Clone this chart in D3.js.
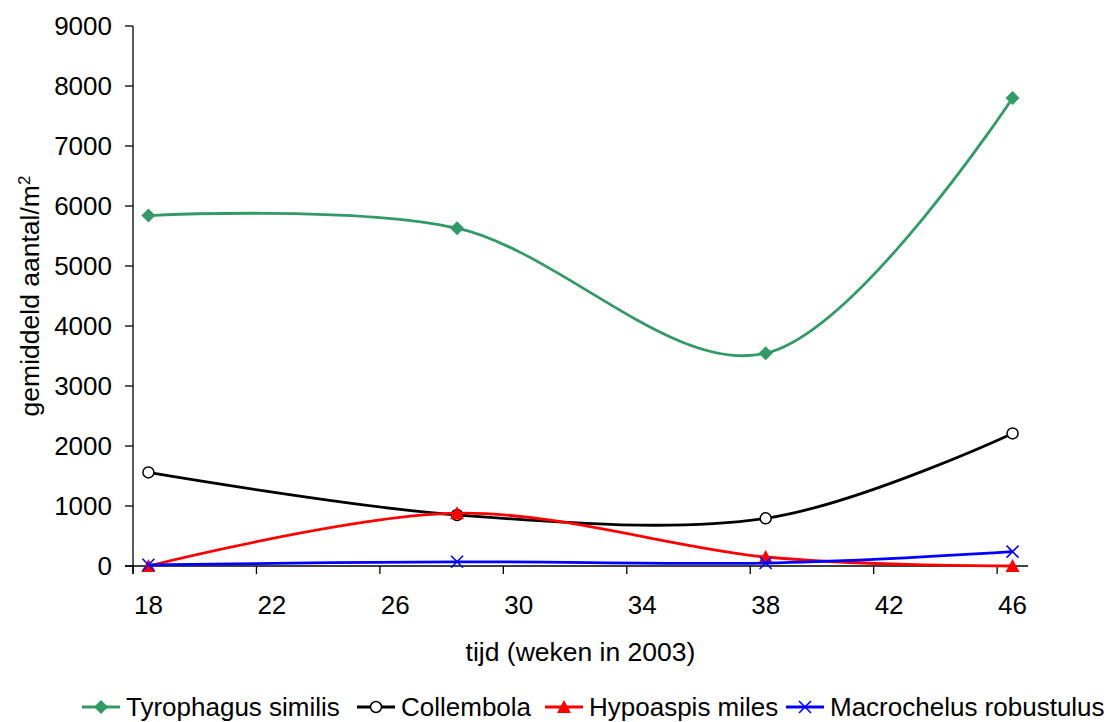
<!DOCTYPE html>
<html>
<head>
<meta charset="utf-8">
<script src="https://cdn.jsdelivr.net/npm/d3@7"></script>
<style>
  html, body { margin: 0; padding: 0; background: #fff; }
  svg { display: block; }
  text { font-family: "Liberation Sans", Arial, sans-serif; fill: #000; }
</style>
</head>
<body>
<svg id="chart" width="1119" height="722"></svg>
<script>
// ---- data ----
const weeks = d3.range(18, 47);            // category axis: weeks 18..46
const tickWeeks = [18, 22, 26, 30, 34, 38, 42, 46];
const sampleWeeks = [18, 28, 38, 46];
const tyrophagus = [5840, 5630, 3545, 7800];
const collembola = [1560, 850, 795, 2210];
const hypoaspis = [0, 880, 150, 0];
const macrochelus = [20, 70, 50, 240];
const yTicks = [0, 1000, 2000, 3000, 4000, 5000, 6000, 7000, 8000, 9000];
const seriesNames = ["Tyrophagus similis", "Collembola", "Hypoaspis miles", "Macrochelus robustulus"];
const seriesColors = ["#339966", "#000000", "#FF0000", "#0000FF"];
const seriesMarkers = ["diamond", "circle", "triangle", "cross"];
const xTitle = "tijd (weken in 2003)";
const yTitle = "gemiddeld aantal/m";

const svg = d3.select("#chart");
const pL = 133, pR = 1028, pT = 26, pB = 566;
const tickFont = "26px", titleFont = "26.5px", legendFont = "26px";

const x = d3.scaleBand().domain(weeks).range([pL, pR]).padding(0);
const y = d3.scaleLinear().domain([0, 9000]).range([pB, pT]);
const cx = w => x(w) + x.bandwidth() / 2;

// axes
const ax = svg.append("g");
ax.append("line").attr("x1", pL).attr("x2", pL).attr("y1", pT).attr("y2", pB + 8)
  .attr("stroke", "#000").attr("stroke-width", 1.3);
ax.append("line").attr("x1", pL - 8).attr("x2", pR).attr("y1", pB).attr("y2", pB)
  .attr("stroke", "#000").attr("stroke-width", 1.3);

yTicks.forEach(v => {
  ax.append("line").attr("x1", pL - 8).attr("x2", pL).attr("y1", y(v)).attr("y2", y(v))
    .attr("stroke", "#000").attr("stroke-width", 1.3);
  ax.append("text").attr("x", 112).attr("y", y(v)).attr("dy", "0.35em")
    .attr("text-anchor", "end").style("font-size", tickFont).text(v);
});
tickWeeks.forEach(w => {
  ax.append("line").attr("x1", x(w)).attr("x2", x(w)).attr("y1", pB).attr("y2", pB + 8)
    .attr("stroke", "#000").attr("stroke-width", 1.3);
  ax.append("text").attr("x", cx(w)).attr("y", 614)
    .attr("text-anchor", "middle").style("font-size", tickFont).text(w);
});

svg.append("text").attr("x", (pL + pR) / 2).attr("y", 661)
  .attr("text-anchor", "middle").style("font-size", titleFont).text(xTitle);

const yt = svg.append("text").attr("transform", `translate(39,${(pT + pB) / 2}) rotate(-90)`)
  .attr("text-anchor", "middle").style("font-size", titleFont);
yt.append("tspan").text(yTitle);
yt.append("tspan").attr("dy", "-0.55em").style("font-size", "17px").text("2");

// markers
function drawMarker(g, type, px, py, color) {
  if (type === "diamond") {
    g.append("path").attr("d", `M${px},${py-7}L${px+7},${py}L${px},${py+7}L${px-7},${py}Z`).attr("fill", color);
  } else if (type === "circle") {
    g.append("circle").attr("cx", px).attr("cy", py).attr("r", 5.5)
      .attr("fill", "#fff").attr("stroke", color).attr("stroke-width", 1.5);
  } else if (type === "triangle") {
    g.append("path").attr("d", `M${px},${py-7}L${px+7},${py+6}L${px-7},${py+6}Z`).attr("fill", color);
  } else if (type === "cross") {
    const s = 6;
    g.append("path").attr("d", `M${px-s},${py-s}L${px+s},${py+s}M${px-s},${py+s}L${px+s},${py-s}`)
      .attr("stroke", color).attr("stroke-width", 1.6);
  }
}

const allSeries = [tyrophagus, collembola, hypoaspis, macrochelus];
const line = d3.line().x(d => d[0]).y(d => d[1]).curve(d3.curveCardinal.tension(0));

allSeries.forEach((vals, i) => {
  const pts = sampleWeeks.map((w, j) => [cx(w), y(vals[j])]);
  const g = svg.append("g");
  g.append("path").attr("d", line(pts)).attr("fill", "none")
    .attr("stroke", seriesColors[i]).attr("stroke-width", 2.8);
  pts.forEach(p => drawMarker(g, seriesMarkers[i], p[0], p[1], seriesColors[i]));
});

// legend: item start positions as laid out in the reference
const legendStarts = [82, 357, 545, 786];
const lg = svg.append("g");
const ly = 707;
seriesNames.forEach((name, i) => {
  const lx = legendStarts[i];
  lg.append("line").attr("x1", lx).attr("x2", lx + 38).attr("y1", ly).attr("y2", ly)
    .attr("stroke", seriesColors[i]).attr("stroke-width", 2.8);
  drawMarker(lg, seriesMarkers[i], lx + 19, ly, seriesColors[i]);
  lg.append("text").attr("x", lx + 44).attr("y", 716).style("font-size", legendFont).text(name);
});
</script>
</body>
</html>
